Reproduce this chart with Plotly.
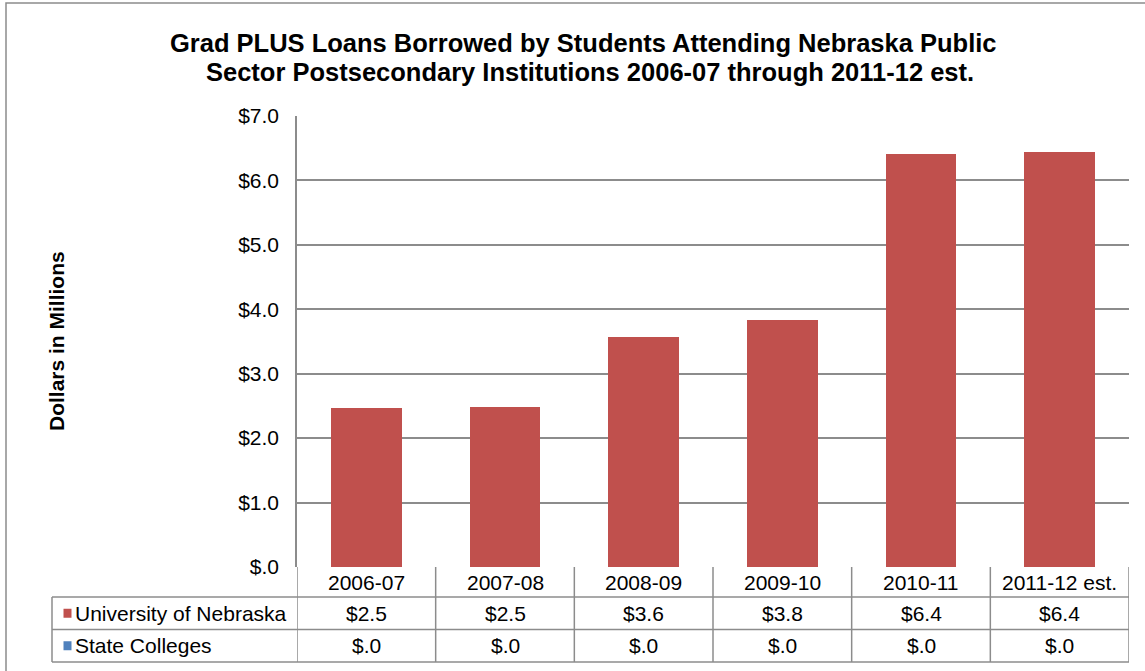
import plotly.graph_objects as go

categories = ["2006-07", "2007-08", "2008-09", "2009-10", "2010-11", "2011-12 est."]
univ_nebraska = [2.47, 2.48, 3.57, 3.84, 6.41, 6.44]
state_colleges = [0.0, 0.0, 0.0, 0.0, 0.0, 0.0]
series_names = ["University of Nebraska", "State Colleges"]
series_colors = ["#C0504D", "#4F81BD"]
y_tickvals = [0, 1, 2, 3, 4, 5, 6, 7]
y_ticktext = ["$.0", "$1.0", "$2.0", "$3.0", "$4.0", "$5.0", "$6.0", "$7.0"]
title_lines = ["Grad PLUS Loans Borrowed by Students Attending Nebraska Public",
               "Sector Postsecondary Institutions 2006-07 through 2011-12 est."]

W, H = 1145, 671
L, R, T, B = 297, 16, 116, 104
pw, ph = W - L - R, H - T - B

def fmt(v):
    s = f"${v:.1f}"
    return s.replace("$0.", "$.")

def px_x(px):
    return (px - L) / pw

def px_y(py):
    return (H - B - py) / ph

FONT = "Liberation Sans, Arial, sans-serif"
GRID = "#8C8C8C"

fig = go.Figure()
fig.add_trace(go.Bar(x=categories, y=univ_nebraska, name=series_names[0],
                     marker=dict(color=series_colors[0], line=dict(width=0)), width=0.51))
fig.add_trace(go.Bar(x=categories, y=state_colleges, name=series_names[1],
                     marker=dict(color=series_colors[1], line=dict(width=0)), width=0.51))

shapes = []
annotations = []
n = len(categories)
row_y = [567, 597, 629.5, 662]  # pixel boundaries of table rows
line = dict(color=GRID, width=1.5)
for ry in row_y[1:]:
    shapes.append(dict(type="line", xref="paper", yref="paper", x0=px_x(52), x1=1,
                       y0=px_y(ry), y1=px_y(ry), line=line))
for i in range(n + 1):
    shapes.append(dict(type="line", xref="x", yref="paper", x0=i - 0.5, x1=i - 0.5,
                       y0=px_y(row_y[0]), y1=px_y(row_y[3]), line=line))
shapes.append(dict(type="line", xref="paper", yref="paper", x0=px_x(52), x1=px_x(52),
                   y0=px_y(row_y[1]), y1=px_y(row_y[3]), line=line))
# outer chart border
shapes.append(dict(type="rect", xref="paper", yref="paper", x0=px_x(6), x1=px_x(1160),
                   y0=px_y(690), y1=px_y(3), line=dict(color=GRID, width=1.5),
                   fillcolor="rgba(0,0,0,0)", layer="below"))

TF = dict(family=FONT, size=21, color="#000000")
for i, c in enumerate(categories):
    annotations.append(dict(x=i, xref="x", yref="paper", y=px_y((row_y[0] + row_y[1]) / 2),
                            text=c, showarrow=False, font=TF, xanchor="center", yanchor="middle"))
for r, vals in enumerate([univ_nebraska, state_colleges]):
    yc = px_y((row_y[r + 1] + row_y[r + 2]) / 2)
    for i in range(n):
        annotations.append(dict(x=i, xref="x", yref="paper", y=yc, text=fmt(vals[i]),
                                showarrow=False, font=TF, xanchor="center", yanchor="middle"))
    shapes.append(dict(type="rect", xref="paper", yref="paper", x0=px_x(63.5), x1=px_x(71.5),
                       y0=yc - 4.5 / ph, y1=yc + 4.5 / ph, fillcolor=series_colors[r],
                       line=dict(width=0)))
    annotations.append(dict(x=px_x(73), xref="paper", yref="paper", y=yc, text=series_names[r],
                            showarrow=False, font=TF, xanchor="left", yanchor="middle"))

annotations.append(dict(x=px_x(56), xref="paper", yref="paper", y=px_y(341),
                        text="<b>Dollars in Millions</b>", textangle=-90, showarrow=False,
                        font=dict(family=FONT, size=21, color="#000000"),
                        xanchor="center", yanchor="middle"))
for txt, cx, cy in zip(title_lines, [583, 590], [43, 72]):
    annotations.append(dict(x=px_x(cx), xref="paper", yref="paper", y=px_y(cy),
                            text="<b>" + txt + "</b>", showarrow=False,
                            font=dict(family=FONT, size=25.5, color="#000000"),
                            xanchor="center", yanchor="middle"))

fig.update_layout(
    width=W, height=H, autosize=False,
    margin=dict(l=L, r=R, t=T, b=B),
    paper_bgcolor="white", plot_bgcolor="white",
    barmode="stack", showlegend=False,
    xaxis=dict(type="category", showticklabels=False, showgrid=False, zeroline=False,
               showline=False, ticks="", range=[-0.5, n - 0.5]),
    yaxis=dict(range=[0, 7], tickvals=y_tickvals, ticktext=y_ticktext, showgrid=True,
               gridcolor=GRID, gridwidth=1.5, zeroline=False, showline=True,
               linecolor=GRID, linewidth=1.5, ticks="outside", ticklen=12, tickcolor="white",
               tickfont=dict(family=FONT, size=21, color="#000000")),
    shapes=shapes, annotations=annotations,
)

fig.write_html("out.html", config={"displayModeBar": False},
               post_script="document.body.style.margin='0';document.body.style.overflow='hidden';")
